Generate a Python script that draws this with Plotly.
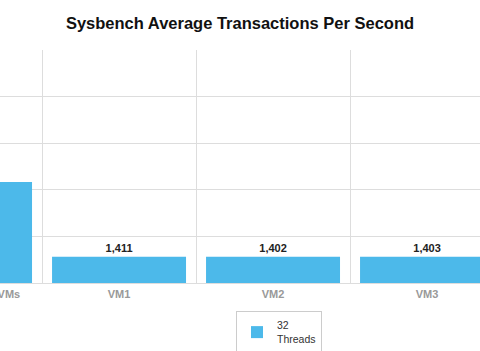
import plotly.graph_objects as go

categories = ["Aggregate of All VMs", "VM1", "VM2", "VM3"]
values_32_threads = [5420, 1411, 1402, 1403]
series_name = "32<br>Threads"

FONT = "Liberation Sans, Arial, sans-serif"
X_RANGE = [0.227, 3.344]

fig = go.Figure()
fig.add_trace(go.Bar(
    x=categories,
    y=values_32_threads,
    name=series_name,
    marker=dict(color="#4cb9ea", line=dict(width=0)),
    texttemplate="<b>%{y:,}</b>",
    textposition="outside",
    textfont=dict(family=FONT, size=11, color="#222222"),
    cliponaxis=True,
    showlegend=True,
))

# label for the first category, whose centre lies left of the visible range
first_pos = 0
fig.add_annotation(
    x=(first_pos - X_RANGE[0]) / (X_RANGE[1] - X_RANGE[0]), y=0,
    xref="paper", yref="paper", xanchor="center",
    text="<b>" + categories[0] + "</b>",
    showarrow=False, yanchor="top", yshift=-3,
    font=dict(family=FONT, size=11, color="#999999"),
)

fig.update_layout(
    width=480, height=351,
    margin=dict(l=0, r=0, t=50, b=68, autoexpand=False),
    paper_bgcolor="white", plot_bgcolor="white",
    bargap=0.13,
    title=dict(text="<b>Sysbench Average Transactions Per Second</b>",
               x=0.5, xanchor="center", y=0.935, yanchor="middle",
               font=dict(family=FONT, size=16.5, color="#111111")),
    font=dict(family=FONT),
    showlegend=True,
    legend=dict(x=279/480, xanchor="center", y=-0.12, yanchor="top",
                bordercolor="#cccccc", borderwidth=1,
                font=dict(size=10.5, color="#333333"),
                itemwidth=30),
    separators=".,",
)
fig.update_xaxes(
    range=X_RANGE,
    tickson="boundaries",
    showgrid=True, gridcolor="#dddddd", gridwidth=1,
    showline=False, zeroline=False, ticks="",
    ticklabelstandoff=3,
    tickfont=dict(size=11, color="#999999", family=FONT),
    tickprefix="<b>", ticksuffix="</b>",
)
fig.update_yaxes(
    range=[0, 12500], dtick=2500,
    showgrid=True, gridcolor="#dddddd", gridwidth=1,
    zeroline=True, zerolinecolor="#dddddd", zerolinewidth=1,
    showticklabels=False, ticks="",
)

fig.write_html("out.html")
